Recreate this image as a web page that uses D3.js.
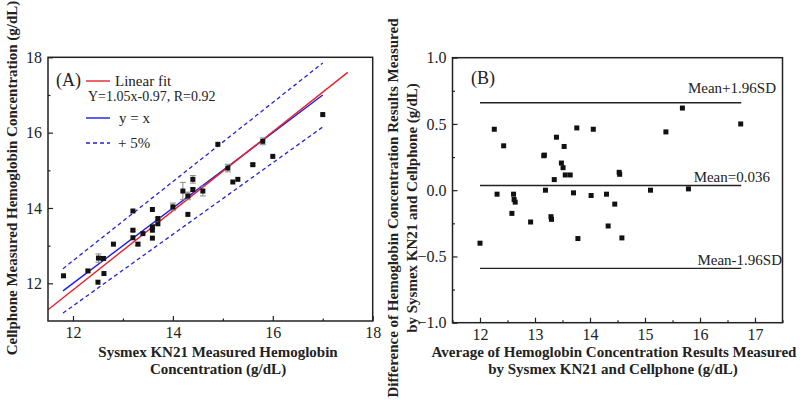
<!DOCTYPE html>
<html>
<head>
<meta charset="utf-8">
<script src="https://cdn.jsdelivr.net/npm/d3@7"></script>
<style>
  body { margin: 0; background: #fff; }
  svg, svg text { font-family: "Liberation Serif", "Times New Roman", serif; }
</style>
</head>
<body>
<svg width="800" height="400"></svg>
<script>
// Panel A: Sysmex vs cellphone (x, y, error bar half-length)
const sysmexHb = [11.81, 12.30, 12.50, 12.51, 12.61, 12.62, 12.81, 13.20, 13.20, 13.20, 13.30,
                  13.40, 13.59, 13.59, 13.59, 13.59, 13.70, 13.70, 14.00, 14.20, 14.30, 14.30,
                  14.40, 14.40, 14.60, 14.90, 15.10, 15.20, 15.30, 15.60, 15.80, 16.00, 17.00];
const phoneHb  = [12.20, 12.33, 12.03, 12.67, 12.66, 12.26, 13.04, 13.92, 13.41, 13.21, 13.04,
                  13.32, 13.96, 13.50, 13.41, 13.20, 13.58, 13.72, 14.03, 14.45, 14.32, 13.83,
                  14.76, 14.49, 14.45, 15.69, 15.06, 14.69, 14.76, 15.15, 15.77, 15.37, 16.48];
const phoneErr = [0, 0.03, 0, 0.11, 0.04, 0, 0, 0, 0.03, 0, 0.04,
                  0, 0, 0.04, 0, 0, 0, 0.03, 0.1, 0.23, 0.1, 0,
                  0.1, 0.04, 0.13, 0, 0.1, 0, 0, 0.03, 0.09, 0, 0];

// Lines in panel A (end points)
const fitX = [11.5, 17.5], fitY = [11.3, 17.6];
const identityX = [11.8, 17.0];
const bandFactor = [1.05, 0.95];

// Panel B: Bland-Altman (mean, difference)
const baMean = [12.00, 12.26, 12.31, 12.43, 12.58, 12.61, 12.62, 12.64, 12.92, 13.16, 13.17,
                13.19, 13.29, 13.30, 13.35, 13.39, 13.48, 13.51, 13.53, 13.55, 13.64, 13.70,
                13.76, 13.78, 14.02, 14.06, 14.30, 14.33, 14.45, 14.53, 14.54, 14.58, 15.10,
                15.38, 15.68, 15.79, 16.74];
const baDiff = [-0.40, 0.46, -0.03, 0.335, -0.175, -0.03, -0.07, -0.09, -0.24, 0.26, 0.265,
                0.00, -0.20, -0.22, 0.08, 0.40, 0.205, 0.17, 0.33, 0.115, 0.115, -0.02,
                0.47, -0.365, -0.04, 0.46, -0.03, -0.27, -0.105, 0.135, 0.12, -0.36, 0.00,
                0.44, 0.62, 0.01, 0.50];
const baLines = [0.66, 0.036, -0.59];
const baLineLabels = ["Mean+1.96SD", "Mean=0.036", "Mean-1.96SD"];
const baLineX = [12, 16.75];

const svg = d3.select("svg");
const ink = "#222";

// Scales
const xA = d3.scaleLinear().domain([11.5, 18]).range([48, 372.7]);
const yA = d3.scaleLinear().domain([11, 18]).range([321, 57.3]);
const xB = d3.scaleLinear().domain([11.5, 17.5]).range([452.5, 782.5]);
const yB = d3.scaleLinear().domain([-1, 1]).range([322.7, 57.7]);

function frame(x, y) {
    svg.append("rect")
       .attr("x", x.range()[0]).attr("y", y.range()[1])
       .attr("width", x.range()[1] - x.range()[0])
       .attr("height", y.range()[0] - y.range()[1])
       .attr("fill", "none").attr("stroke", ink).attr("stroke-width", 1.5);
}

function axes(x, y, xMajor, xMinor, yMajor, yMinor, yFmt) {
    const y0 = y.range()[0], x0 = x.range()[0];
    // bottom
    const bx = svg.append("g").attr("transform", `translate(0,${y0})`);
    bx.call(d3.axisBottom(x).tickValues(xMinor).tickSize(-2.5).tickFormat(""));
    bx.append("g").call(d3.axisBottom(x).tickValues(xMajor).tickSize(-5).tickPadding(6).tickFormat(d3.format("d")));
    // left
    const ly = svg.append("g").attr("transform", `translate(${x0},0)`);
    ly.call(d3.axisLeft(y).tickValues(yMinor).tickSize(-2.5).tickFormat(""));
    ly.append("g").call(d3.axisLeft(y).tickValues(yMajor).tickSize(-5).tickPadding(6).tickFormat(yFmt));
    svg.selectAll(".domain").remove();
    svg.selectAll(".tick line").attr("stroke", ink).attr("stroke-width", 1.2);
    svg.selectAll(".tick text").style("font-family", "'Liberation Serif', serif")
       .style("font-size", "16px").attr("fill", ink);
}

// ---------- Panel A ----------
axes(xA, yA, [12, 14, 16, 18], [13, 15, 17], [12, 14, 16, 18], [13, 15, 17], d3.format("d"));

const line = (xs, ys) => d3.line()(xs.map((v, i) => [xA(v), yA(ys[i])]));

// +-5% bands
bandFactor.forEach(f => {
    svg.append("path")
       .attr("d", line(identityX, identityX.map(v => v * f)))
       .attr("stroke", "#2222dd").attr("stroke-width", 1.3)
       .attr("stroke-dasharray", "4,3").attr("fill", "none");
});
// y = x
svg.append("path").attr("d", line(identityX, identityX))
   .attr("stroke", "#1a1aee").attr("stroke-width", 1.4).attr("fill", "none");
// linear fit
svg.append("path").attr("d", line(fitX, fitY))
   .attr("stroke", "#e8202a").attr("stroke-width", 1.4).attr("fill", "none");

// error bars
const ptsA = sysmexHb.map((v, i) => ({ x: v, y: phoneHb[i], e: phoneErr[i] }));
const eb = svg.append("g").attr("stroke", "#888").attr("stroke-width", 1);
ptsA.filter(d => d.e > 0).forEach(d => {
    const cx = xA(d.x), t = yA(d.y + d.e), b = yA(d.y - d.e);
    eb.append("line").attr("x1", cx).attr("x2", cx).attr("y1", t).attr("y2", b);
    eb.append("line").attr("x1", cx - 3).attr("x2", cx + 3).attr("y1", t).attr("y2", t);
    eb.append("line").attr("x1", cx - 3).attr("x2", cx + 3).attr("y1", b).attr("y2", b);
});
svg.append("g").selectAll("rect").data(ptsA).join("rect")
   .attr("x", d => xA(d.x) - 2.5).attr("y", d => yA(d.y) - 2.5)
   .attr("width", 5).attr("height", 5).attr("fill", "#111");

frame(xA, yA);

// legend A
svg.append("text").attr("x", 56).attr("y", 86).attr("font-size", 18).attr("fill", ink).text("(A)");
const legA = [
    { y: 81, color: "#e8202a", dash: null, label: "Linear fit", lx: 115 },
    { y: 118, color: "#1a1aee", dash: null, label: "y = x", lx: 119 },
    { y: 143, color: "#2222dd", dash: "4,3", label: "+ 5%", lx: 118 }
];
legA.forEach(d => {
    svg.append("line").attr("x1", 86).attr("x2", 110).attr("y1", d.y).attr("y2", d.y)
       .attr("stroke", d.color).attr("stroke-width", 1.4).attr("stroke-dasharray", d.dash);
    svg.append("text").attr("x", d.lx).attr("y", d.y + 5).attr("font-size", 15).attr("fill", ink).text(d.label);
});
svg.append("text").attr("x", 88).attr("y", 101).attr("font-size", 14).attr("fill", ink)
   .text("Y=1.05x-0.97, R=0.92");

// titles A
const title = (x, y, rot, txt) => svg.append("text")
    .attr("transform", `translate(${x},${y}) rotate(${rot})`)
    .attr("text-anchor", "middle").attr("font-weight", "bold").attr("font-size", 15)
    .attr("fill", ink).text(txt);
title(17, 178, -90, "Cellphone Measured Hemoglobin Concentration (g/dL)");
title(218, 357, 0, "Sysmex KN21 Measured Hemoglobin");
title(218, 374, 0, "Concentration (g/dL)");

// ---------- Panel B ----------
axes(xB, yB, [12, 13, 14, 15, 16, 17], d3.range(11.5, 17.6, 0.5).filter(v => v % 1 !== 0),
     [-1, -0.5, 0, 0.5, 1], [-0.75, -0.25, 0.25, 0.75], d3.format(".1f"));

baLines.forEach((v, i) => {
    svg.append("line").attr("x1", xB(baLineX[0])).attr("x2", xB(baLineX[1]))
       .attr("y1", yB(v)).attr("y2", yB(v)).attr("stroke", ink).attr("stroke-width", 1.4);
});
const labelPos = [{ x: 776, y: 93 }, { x: 770, y: 182 }, { x: 782, y: 265 }];
baLineLabels.forEach((t, i) => {
    svg.append("text").attr("x", labelPos[i].x).attr("y", labelPos[i].y)
       .attr("text-anchor", "end").attr("font-size", 15).attr("fill", ink).text(t);
});

svg.append("g").selectAll("rect").data(baMean.map((v, i) => [v, baDiff[i]])).join("rect")
   .attr("x", d => xB(d[0]) - 2.5).attr("y", d => yB(d[1]) - 2.5)
   .attr("width", 5).attr("height", 5).attr("fill", "#111");

frame(xB, yB);

svg.append("text").attr("x", 471).attr("y", 84).attr("font-size", 18).attr("fill", ink).text("(B)");

title(398, 208, -90, "Difference of Hemoglobin Concentration Results Measured");
title(417, 208, -90, "by Sysmex KN21 and Cellphone (g/dL)");
title(614, 357, 0, "Average of Hemoglobin Concentration Results Measured");
title(613, 374, 0, "by Sysmex KN21 and Cellphone (g/dL)");
</script>
</body>
</html>
